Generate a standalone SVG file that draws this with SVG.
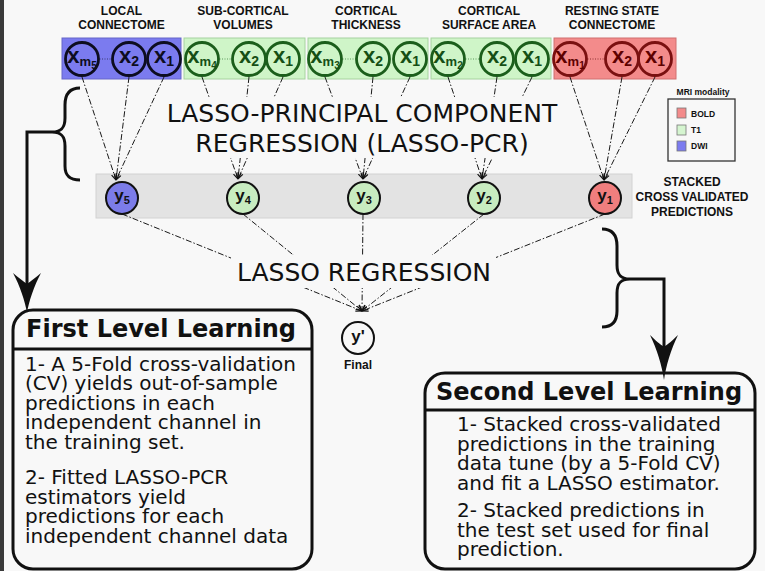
<svg xmlns="http://www.w3.org/2000/svg" width="765" height="571" viewBox="0 0 765 571">
  <defs>
    <marker id="tip" viewBox="0 0 8 8" refX="7.5" refY="4" markerWidth="7" markerHeight="7" orient="auto" markerUnits="userSpaceOnUse">
      <path d="M0.5,1 L7.5,4 L0.5,7" fill="none" stroke="#111" stroke-width="1.3"/>
    </marker>
  </defs>
  <style>
    .hdr{font-family:"Liberation Sans",Arial,sans-serif;font-weight:bold;font-size:12px;fill:#111;text-anchor:middle}
    .xl{font-family:"Liberation Sans",Arial,sans-serif;font-weight:bold;font-size:22px;text-anchor:middle}
    .yl{font-family:"Liberation Sans",Arial,sans-serif;font-weight:bold;font-size:17px;fill:#111;text-anchor:middle}
    .big{font-family:"DejaVu Sans",sans-serif;font-size:25px;fill:#111;text-anchor:middle}
    .ttl{font-family:"DejaVu Sans",sans-serif;font-weight:bold;font-size:24px;fill:#111;text-anchor:middle}
    .body{font-family:"DejaVu Sans",sans-serif;font-size:20px;fill:#111}
    .sm{font-family:"Liberation Sans",Arial,sans-serif;font-weight:bold;fill:#111}
    .link{fill:none;stroke:#1a1a1a;stroke-width:1;stroke-dasharray:6 2 1.5 2}
    .dots{fill:none;stroke-width:1;stroke-dasharray:1 1.5}
    .plate{fill:#f8f8f8}
    .blue rect{fill:#7b7bef;stroke:#6666c8}
    .blue circle{fill:none;stroke:#0d0d20;stroke-width:2.8}
    .blue text{fill:#0d0d20}
    .blue line{stroke:#3a3a70}
    .green rect{fill:#cff5c8;stroke:#a6d29f}
    .green circle{fill:none;stroke:#1b5e1b;stroke-width:2.8}
    .green text{fill:#154f15}
    .green line{stroke:#5a9a5a}
    .red rect{fill:#f38b8b;stroke:#d06f6f}
    .red circle{fill:none;stroke:#7a1010;stroke-width:2.8}
    .red text{fill:#5e0000}
    .red line{stroke:#8a3030}
    .ynode{stroke:#111;stroke-width:2}
    .frame{fill:none;stroke:#111;stroke-width:3}
    .brace{fill:none;stroke:#111;stroke-width:3}
  </style>

  <!-- page -->
  <rect x="0" y="0" width="765" height="571" fill="#f8f8f8"/>
  <rect x="0" y="0" width="4" height="571" fill="#3a3a3a"/>

  <!-- column headers -->
  <g id="headers">
    <text class="hdr" x="121.5" y="15">LOCAL</text>
    <text class="hdr" x="121.5" y="29">CONNECTOME</text>
    <text class="hdr" x="243" y="15">SUB-CORTICAL</text>
    <text class="hdr" x="243" y="29">VOLUMES</text>
    <text class="hdr" x="366" y="15">CORTICAL</text>
    <text class="hdr" x="366" y="29">THICKNESS</text>
    <text class="hdr" x="489" y="15">CORTICAL</text>
    <text class="hdr" x="489" y="29">SURFACE AREA</text>
    <text class="hdr" x="612" y="15">RESTING STATE</text>
    <text class="hdr" x="612" y="29">CONNECTOME</text>
  </g>

  <!-- feature channels -->
  <g id="channel-local" class="blue">
    <rect x="62" y="38" width="119" height="41"/>
    <line class="dots" x1="99.5" y1="59" x2="111.5" y2="59"/>
    <circle cx="82" cy="59" r="16.5"/>
    <circle cx="129" cy="59" r="16.5"/>
    <circle cx="164" cy="59" r="16.5"/>
    <text class="xl" x="82" y="63">x<tspan font-size="13" dy="3">m</tspan><tspan font-size="10" dy="3">5</tspan></text>
    <text class="xl" x="129" y="63">x<tspan font-size="14" dy="3">2</tspan></text>
    <text class="xl" x="164" y="63">x<tspan font-size="14" dy="3">1</tspan></text>
  </g>
  <g id="channel-subcortical" class="green">
    <rect x="184" y="38" width="121" height="41"/>
    <line class="dots" x1="219.5" y1="59" x2="231.5" y2="59"/>
    <circle cx="202" cy="59" r="16.5"/>
    <circle cx="249" cy="59" r="16.5"/>
    <circle cx="283" cy="59" r="16.5"/>
    <text class="xl" x="202" y="63">x<tspan font-size="13" dy="3">m</tspan><tspan font-size="10" dy="3">4</tspan></text>
    <text class="xl" x="249" y="63">x<tspan font-size="14" dy="3">2</tspan></text>
    <text class="xl" x="283" y="63">x<tspan font-size="14" dy="3">1</tspan></text>
  </g>
  <g id="channel-thickness" class="green">
    <rect x="308" y="38" width="120" height="41"/>
    <line class="dots" x1="342.5" y1="59" x2="355.5" y2="59"/>
    <circle cx="325" cy="59" r="16.5"/>
    <circle cx="373" cy="59" r="16.5"/>
    <circle cx="410" cy="59" r="16.5"/>
    <text class="xl" x="325" y="63">x<tspan font-size="13" dy="3">m</tspan><tspan font-size="10" dy="3">3</tspan></text>
    <text class="xl" x="373" y="63">x<tspan font-size="14" dy="3">2</tspan></text>
    <text class="xl" x="410" y="63">x<tspan font-size="14" dy="3">1</tspan></text>
  </g>
  <g id="channel-surface" class="green">
    <rect x="431" y="38" width="120" height="41"/>
    <line class="dots" x1="465.5" y1="59" x2="479.5" y2="59"/>
    <circle cx="448" cy="59" r="16.5"/>
    <circle cx="497" cy="59" r="16.5"/>
    <circle cx="532" cy="59" r="16.5"/>
    <text class="xl" x="448" y="63">x<tspan font-size="13" dy="3">m</tspan><tspan font-size="10" dy="3">2</tspan></text>
    <text class="xl" x="497" y="63">x<tspan font-size="14" dy="3">2</tspan></text>
    <text class="xl" x="532" y="63">x<tspan font-size="14" dy="3">1</tspan></text>
  </g>
  <g id="channel-resting" class="red">
    <rect x="554" y="38" width="122" height="41"/>
    <line class="dots" x1="587.5" y1="59" x2="604.5" y2="59"/>
    <circle cx="570" cy="59" r="16.5"/>
    <circle cx="622" cy="59" r="16.5"/>
    <circle cx="655" cy="59" r="16.5"/>
    <text class="xl" x="570" y="63">x<tspan font-size="13" dy="3">m</tspan><tspan font-size="10" dy="3">1</tspan></text>
    <text class="xl" x="622" y="63">x<tspan font-size="14" dy="3">2</tspan></text>
    <text class="xl" x="655" y="63">x<tspan font-size="14" dy="3">1</tspan></text>
  </g>

  <!-- legend -->
  <g id="legend">
    <text class="sm" x="703" y="95" font-size="8.5" text-anchor="middle">MRI modality</text>
    <rect x="668" y="99" width="67" height="62" fill="none" stroke="#333" stroke-width="1.3"/>
    <rect x="677" y="108" width="9" height="10" fill="#f38b8b" stroke="#777" stroke-width="0.8"/>
    <text class="sm" x="691" y="116.5" font-size="8.5">BOLD</text>
    <rect x="677" y="125" width="9" height="10" fill="#d5f5d0" stroke="#777" stroke-width="0.8"/>
    <text class="sm" x="691" y="133" font-size="8.5">T1</text>
    <rect x="677" y="141" width="9" height="10" fill="#7b7bef" stroke="#777" stroke-width="0.8"/>
    <text class="sm" x="691" y="149" font-size="8.5">DWI</text>
  </g>

  <!-- stacked predictions band -->
  <g id="stacked-band">
    <rect x="96" y="174" width="536" height="44" fill="#e3e3e3" stroke="#d2d2d2"/>
    <text class="sm" x="692" y="186" font-size="12" text-anchor="middle">STACKED</text>
    <text class="sm" x="692" y="201" font-size="12" text-anchor="middle">CROSS VALIDATED</text>
    <text class="sm" x="692" y="216" font-size="12" text-anchor="middle">PREDICTIONS</text>
  </g>

  <!-- connectors -->
  <g id="connectors">
    <g marker-end="url(#tip)">
      <line class="link" x1="82" y1="77" x2="116" y2="180"/>
      <line class="link" x1="129" y1="77" x2="116" y2="180"/>
      <line class="link" x1="164" y1="77" x2="116" y2="180"/>
      <line class="link" x1="202" y1="77" x2="238" y2="179"/>
      <line class="link" x1="249" y1="77" x2="238" y2="179"/>
      <line class="link" x1="283" y1="77" x2="238" y2="179"/>
      <line class="link" x1="325" y1="77" x2="363" y2="179"/>
      <line class="link" x1="373" y1="77" x2="363" y2="179"/>
      <line class="link" x1="410" y1="77" x2="363" y2="179"/>
      <line class="link" x1="448" y1="77" x2="482" y2="179"/>
      <line class="link" x1="497" y1="77" x2="482" y2="179"/>
      <line class="link" x1="532" y1="77" x2="482" y2="179"/>
      <line class="link" x1="570" y1="77" x2="604" y2="180"/>
      <line class="link" x1="622" y1="77" x2="604" y2="180"/>
      <line class="link" x1="655" y1="77" x2="604" y2="180"/>
      <line class="link" x1="122" y1="214" x2="362" y2="311"/>
      <line class="link" x1="243" y1="214" x2="362" y2="311"/>
      <line class="link" x1="363" y1="214" x2="362" y2="311"/>
      <line class="link" x1="484" y1="214" x2="362" y2="311"/>
      <line class="link" x1="605" y1="214" x2="362" y2="311"/>
    </g>
    <!-- brace leaders -->
    <path class="brace" d="M80,88 C69,88 65,95 65,105 L65,118 C65,127 62,132 52,132 C62,132 65,137 65,146 L65,166 C65,175 69,180 80,180"/>
    <polyline class="brace" points="52,132 27,132 27,286"/>
    <path d="M27,313 C25,301 20,286 13,273 C19,278 23,281 27,284 C31,281 35,278 41,273 C34,286 29,301 27,313 Z" fill="#111"/>
    <path class="brace" d="M602,229 C613,229 617,236 617,246 L617,265 C617,274 620,279 630,279 C620,279 617,284 617,293 L617,311 C617,321 613,327 602,327"/>
    <polyline class="brace" points="630,279 664,279 664,349"/>
    <path d="M664,380 C662,366 657,349 650,335 C656,341 660,344 664,347 C668,344 672,341 678,335 C671,349 666,366 664,380 Z" fill="#111"/>
  </g>

  <!-- model labels -->
  <g id="lasso-pcr">
    <rect class="plate" x="163" y="97" width="398" height="61"/>
    <text class="big" x="362" y="122">LASSO-PRINCIPAL COMPONENT</text>
    <text class="big" x="362" y="152">REGRESSION (LASSO-PCR)</text>
  </g>
  <g id="lasso-regression">
    <rect class="plate" x="231" y="255" width="265" height="33"/>
    <text class="big" x="364" y="281">LASSO REGRESSION</text>
  </g>

  <!-- stacked predictions -->
  <g id="y5">
    <circle class="ynode" cx="122" cy="198" r="16" fill="#7c7ce8"/>
    <text class="yl" x="122" y="201">y<tspan font-size="11" dy="3">5</tspan></text>
  </g>
  <g id="y4">
    <circle class="ynode" cx="243" cy="198" r="16" fill="#c8ecc0"/>
    <text class="yl" x="243" y="201">y<tspan font-size="11" dy="3">4</tspan></text>
  </g>
  <g id="y3">
    <circle class="ynode" cx="364" cy="198" r="16" fill="#c8ecc0"/>
    <text class="yl" x="364" y="201">y<tspan font-size="11" dy="3">3</tspan></text>
  </g>
  <g id="y2">
    <circle class="ynode" cx="484" cy="198" r="16" fill="#c8ecc0"/>
    <text class="yl" x="484" y="201">y<tspan font-size="11" dy="3">2</tspan></text>
  </g>
  <g id="y1">
    <circle class="ynode" cx="605" cy="198" r="16" fill="#f07e7e"/>
    <text class="yl" x="605" y="201">y<tspan font-size="11" dy="3">1</tspan></text>
  </g>

  <!-- final prediction -->
  <g id="final">
    <circle class="ynode" cx="358" cy="338" r="16" fill="#f8f8f8"/>
    <text class="yl" x="358" y="342">y'</text>
    <text class="sm" x="358" y="369" font-size="12" text-anchor="middle">Final</text>
  </g>

  <!-- first level box -->
  <g id="first-level">
    <rect class="frame" x="13" y="310" width="299" height="259" rx="20"/>
    <line class="frame" x1="13" y1="349" x2="312" y2="349"/>
    <text class="ttl" x="161" y="337">First Level Learning</text>
    <text class="body" x="25" y="370.5">1- A 5-Fold cross-validation</text>
    <text class="body" x="25" y="390">(CV) yields out-of-sample</text>
    <text class="body" x="25" y="409.5">predictions in each</text>
    <text class="body" x="25" y="429">independent channel in</text>
    <text class="body" x="25" y="448.5">the training set.</text>
    <text class="body" x="25" y="484">2- Fitted LASSO-PCR</text>
    <text class="body" x="25" y="503.5">estimators yield</text>
    <text class="body" x="25" y="523">predictions for each</text>
    <text class="body" x="25" y="542.5">independent channel data</text>
  </g>

  <!-- second level box -->
  <g id="second-level">
    <rect class="frame" x="425" y="373" width="330" height="196" rx="20"/>
    <line class="frame" x1="425" y1="410" x2="755" y2="410"/>
    <text class="ttl" x="589" y="400">Second Level Learning</text>
    <text class="body" x="457" y="431">1- Stacked cross-validated</text>
    <text class="body" x="457" y="450.5">predictions in the training</text>
    <text class="body" x="457" y="470">data tune (by a 5-Fold CV)</text>
    <text class="body" x="457" y="489.5">and fit a LASSO estimator.</text>
    <text class="body" x="457" y="517">2- Stacked predictions in</text>
    <text class="body" x="457" y="536.5">the test set used for final</text>
    <text class="body" x="457" y="556">prediction.</text>
  </g>
</svg>
